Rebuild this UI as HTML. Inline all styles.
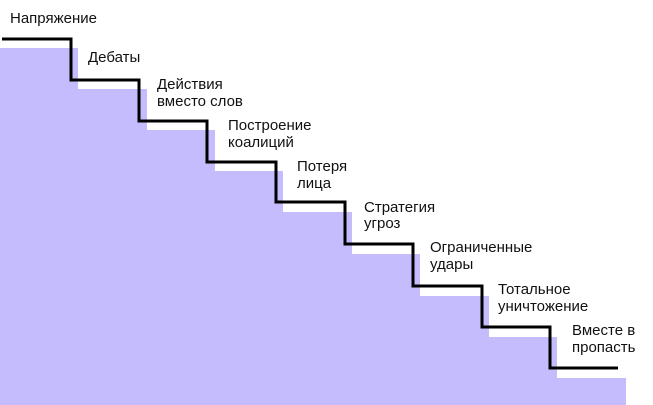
<!DOCTYPE html>
<html><head><meta charset="utf-8"><style>
body{margin:0;background:#fff;width:653px;height:405px;overflow:hidden}
svg{display:block}
text{font-family:"Liberation Sans",sans-serif;font-size:15px;fill:#111}
</style></head><body>
<svg width="653" height="405" viewBox="0 0 653 405">
<path fill="#c4bcfc" d="M0 48 H78 V89 H147 V130 H215 V171 H283 V212 H352 V254 H420 V296 H489 V337 H557 V378 H626 V405 H0 Z"/>
<path fill="none" stroke="#000" stroke-width="3" d="M2 39 H71 V80 H139 V121 H207 V162 H276 V202 H345 V244 H413 V286 H482 V327 H550 V368 H618"/>
<text x="10" y="23">Напряжение</text>
<text x="88" y="62">Дебаты</text>
<text x="157" y="89">Действия</text><text x="157" y="106">вместо слов</text>
<text x="228" y="130">Построение</text><text x="228" y="147">коалиций</text>
<text x="297" y="171">Потеря</text><text x="297" y="188">лица</text>
<text x="364" y="212">Стратегия</text><text x="364" y="228">угроз</text>
<text x="430" y="252">Ограниченные</text><text x="430" y="269">удары</text>
<text x="498" y="294">Тотальное</text><text x="498" y="311">уничтожение</text>
<text x="572" y="335">Вместе в</text><text x="572" y="352">пропасть</text>
</svg>
</body></html>
